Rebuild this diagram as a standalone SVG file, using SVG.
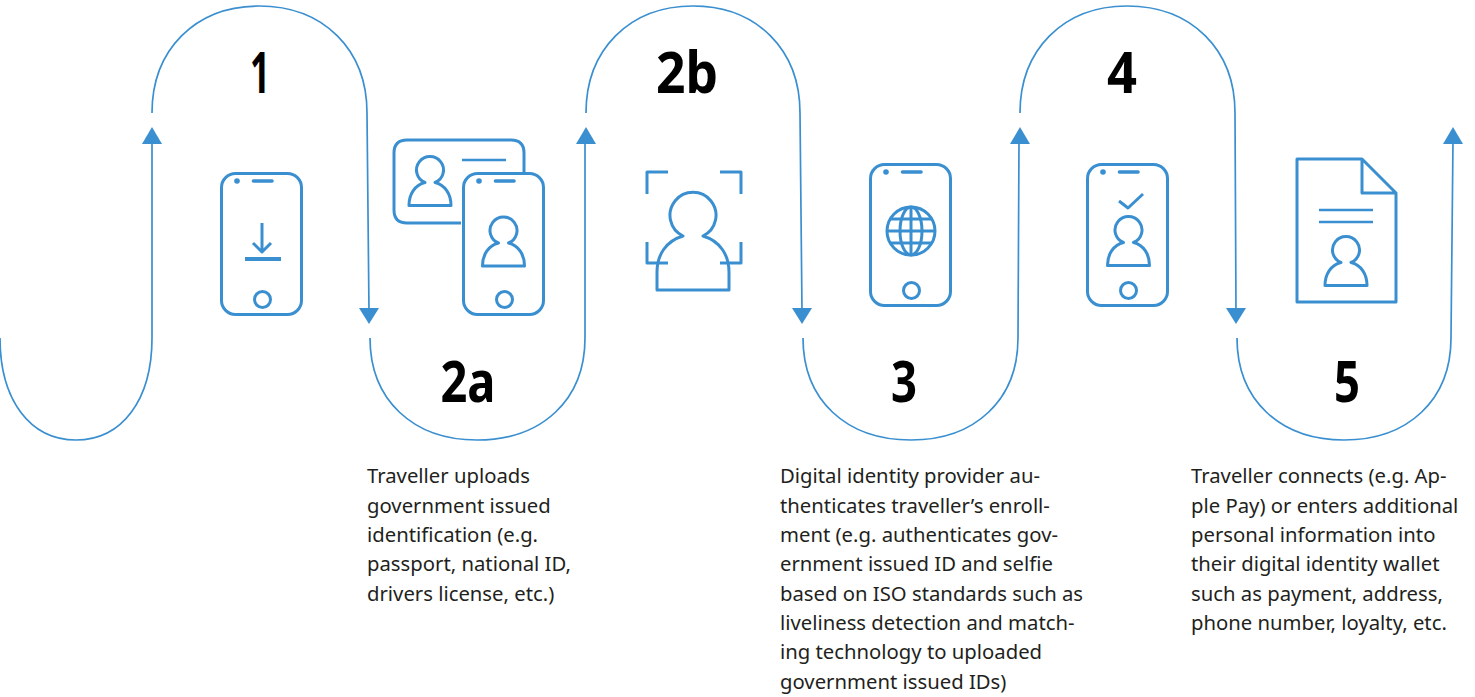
<svg xmlns="http://www.w3.org/2000/svg" xmlns:xlink="http://www.w3.org/1999/xlink" width="1475" height="697" viewBox="0 0 1475 697">
<style>
.c{fill:none;stroke:#3a8fd0;stroke-width:1.7}
.i{fill:none;stroke:#3a8fd0;stroke-width:3;stroke-linejoin:round}
.a{fill:#3a8fd0}
.n{font-family:"Noto Sans","Open Sans",sans-serif;font-weight:700;font-size:58px;fill:#000;text-anchor:middle}
.t{font-family:"Noto Sans","Open Sans",sans-serif;font-size:20.3px;fill:#231f20}
.thin{stroke-width:2.4}
.sp{stroke-width:3.6;stroke-linecap:round}
</style>
<defs>
<g id="phone">
<rect class="i" x="1.500" y="1.500" width="80" height="141" rx="14"/>
<circle class="a" cx="17" cy="9" r="2.800"/>
<path class="i sp" d="M33.500 9H52"/>
<circle class="i" cx="42.500" cy="127.500" r="8"/>
</g>
<path id="person" class="i" d="M-5 11.500A13.500 13.500 0 1 1 5 11.500C15 14 21 23 21 34.500H-21C-21 23-15 14-5 11.500Z"/>
</defs>
<g id="connectors">
<path class="c" d="M0 338C0 400 30 440 76 440C122 440 152 400 152 338L152 140"/>
<path class="a" d="M152 127L162 144H142Z"/>
<path class="c" d="M152 113C152 50 195 6 259 6C324 6 367 50 367 113L369 312"/>
<path class="a" d="M369 324L359 308H379Z"/>
<path class="c" d="M370 338C370 400 413 440 477 440C542 440 585 400 585 338L585 140"/>
<path class="a" d="M586 127L596 144H576Z"/>
<path class="c" d="M586 113C586 50 629 6 693 6C757 6 800 50 800 113L802 312"/>
<path class="a" d="M802 324L792 308H812Z"/>
<path class="c" d="M803 338C803 400 846 440 911 440C975 440 1018 400 1018 338L1019 140"/>
<path class="a" d="M1020 127L1030 144H1010Z"/>
<path class="c" d="M1020 113C1020 50 1063 6 1127 6C1192 6 1235 50 1235 113L1236 312"/>
<path class="a" d="M1236 324L1226 308H1246Z"/>
<path class="c" d="M1237 338C1237 400 1280 440 1344 440C1408 440 1451 400 1451 338L1453 140"/>
<path class="a" d="M1453 127L1463 144H1443Z"/>
</g>
<g id="step-1">
<text class="n" x="260" y="93" textLength="20" lengthAdjust="spacingAndGlyphs">1</text>
<use xlink:href="#phone" href="#phone" x="220" y="172"/>
<path class="i" d="M262 223V251M253 243L262 252L271 243"/>
<path d="M245 257H281V261H245Z" class="a"/>
</g>
<g id="step-2a">
<text class="n" x="468" y="402" textLength="55" lengthAdjust="spacingAndGlyphs">2a</text>
<path class="i" d="M461 223H407Q394 223 394 210V153Q394 140 407 140H511Q524 140 524 153V173"/>
<use xlink:href="#person" href="#person" x="430" y="171"/>
<path class="i thin" d="M462 160H506"/>
<use xlink:href="#phone" href="#phone" x="462" y="172"/>
<use xlink:href="#person" href="#person" x="503.500" y="231.500"/>
<text class="t"><tspan x="367" y="483">Traveller uploads</tspan><tspan x="367" y="513">government issued</tspan><tspan x="367" y="542">identification (e.g.</tspan><tspan x="367" y="571">passport, national ID,</tspan><tspan x="367" y="601">drivers license, etc.)</tspan></text>
</g>
<g id="step-2b">
<text class="n" x="687" y="93" textLength="62" lengthAdjust="spacingAndGlyphs">2b</text>
<path class="i" d="M668 172H647V194M720 172H741V194M647 242V263H668M741 242V263H720"/>
<path class="i" d="M683 236A23 23 0 1 1 703 236C720 241 729 255 729 272V290H657V272C657 255 666 241 683 236Z"/>
</g>
<g id="step-3">
<text class="n" x="904" y="402" textLength="26" lengthAdjust="spacingAndGlyphs">3</text>
<use xlink:href="#phone" href="#phone" x="869" y="163"/>
<g class="i">
<circle cx="911" cy="231" r="24"/>
<ellipse cx="911" cy="231" rx="11" ry="24"/>
<path d="M911 207V255M887 231H935M890 219H932M890 243H932"/>
</g>
<text class="t"><tspan x="780" y="483">Digital identity provider au-</tspan><tspan x="780" y="513">thenticates traveller’s enroll-</tspan><tspan x="780" y="542">ment (e.g. authenticates gov-</tspan><tspan x="780" y="571">ernment issued ID and selfie</tspan><tspan x="780" y="601">based on ISO standards such as</tspan><tspan x="780" y="630">liveliness detection and match-</tspan><tspan x="780" y="659">ing technology to uploaded</tspan><tspan x="780" y="689">government issued IDs)</tspan></text>
</g>
<g id="step-4">
<text class="n" x="1122" y="93" textLength="30" lengthAdjust="spacingAndGlyphs">4</text>
<use xlink:href="#phone" href="#phone" x="1086" y="163"/>
<path class="i" d="M1119 201L1128 208L1143 194"/>
<use xlink:href="#person" href="#person" x="1128.500" y="231"/>
</g>
<g id="step-5">
<text class="n" x="1347" y="402" textLength="26" lengthAdjust="spacingAndGlyphs">5</text>
<path class="i" d="M1362 159H1297V302H1396V193L1362 159V193H1396"/>
<path class="i thin" d="M1319 210H1373M1319 222H1373"/>
<use xlink:href="#person" href="#person" x="1346" y="251"/>
<text class="t"><tspan x="1191" y="483">Traveller connects (e.g. Ap-</tspan><tspan x="1191" y="513">ple Pay) or enters additional</tspan><tspan x="1191" y="542">personal information into</tspan><tspan x="1191" y="571">their digital identity wallet</tspan><tspan x="1191" y="601">such as payment, address,</tspan><tspan x="1191" y="630">phone number, loyalty, etc.</tspan></text>
</g>
</svg>
